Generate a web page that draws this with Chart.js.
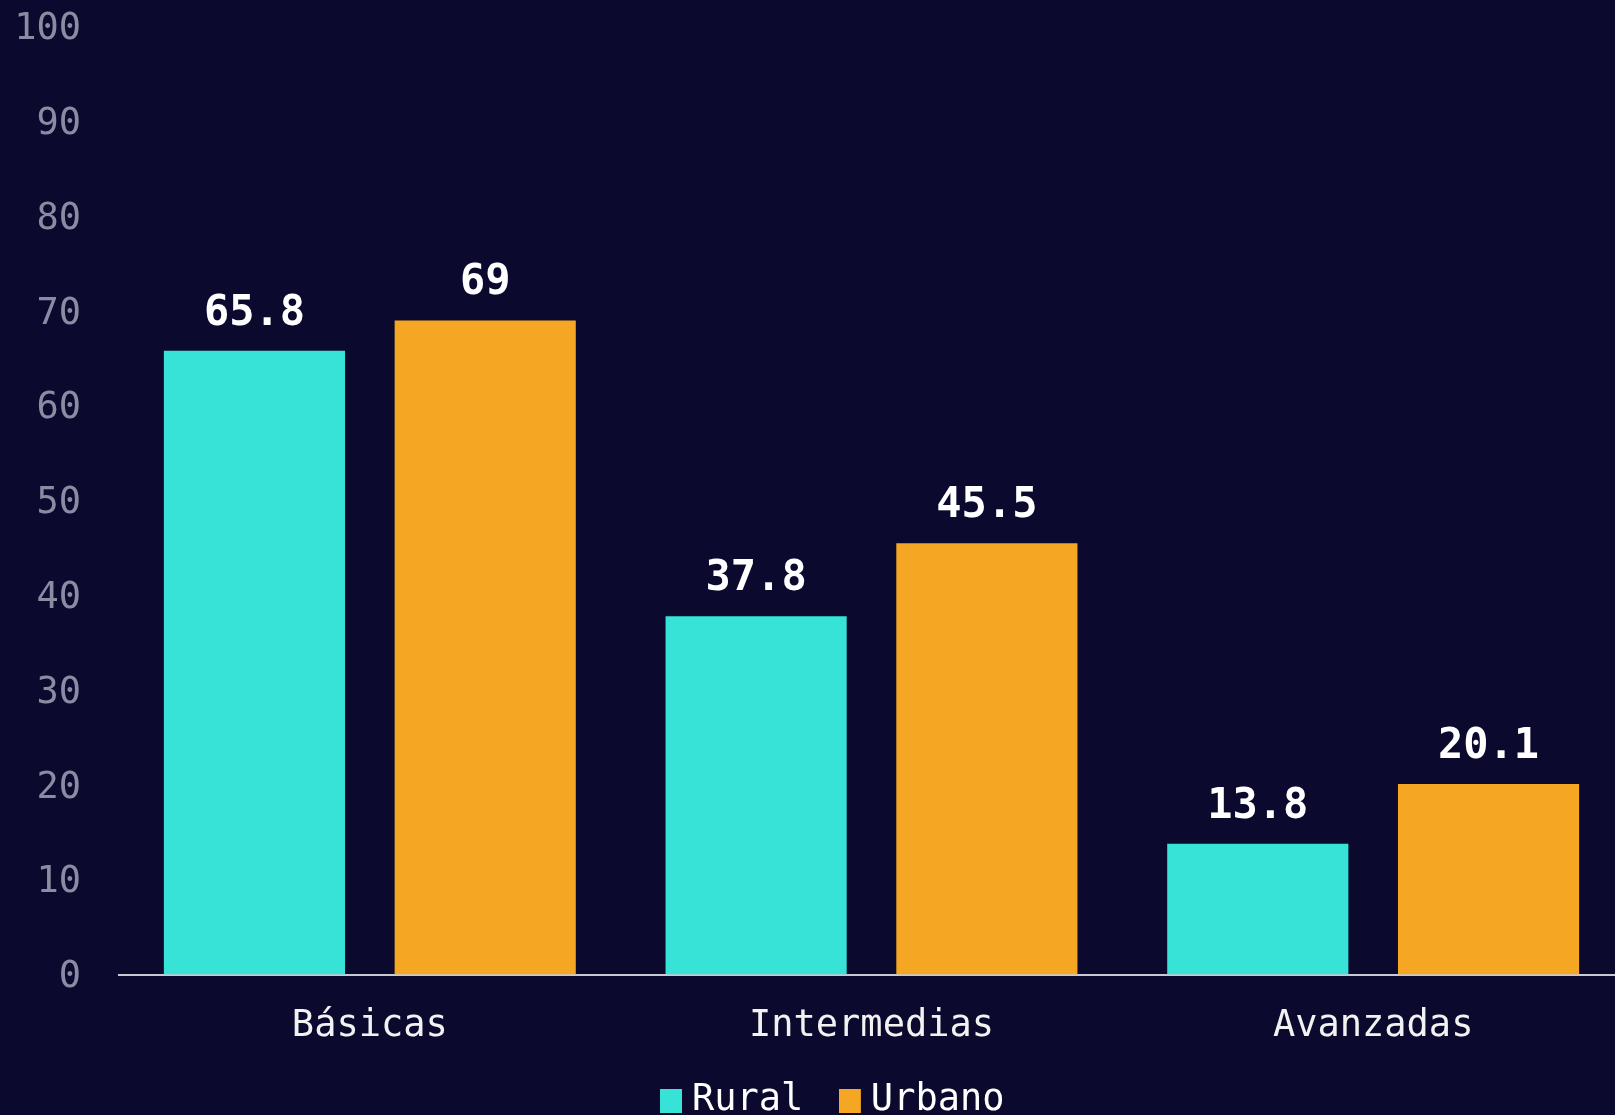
<!DOCTYPE html>
<html>
<head>
<meta charset="utf-8">
<script src="https://cdn.jsdelivr.net/npm/chart.js@4.4.1/dist/chart.umd.min.js"></script>
<style>
  html, body { margin: 0; padding: 0; background: #0b0a2e; overflow: hidden; width: 1615px; height: 1115px; }
  #wrap { position: absolute; left: 0; top: 0; width: 1664px; height: 1173px; }
</style>
</head>
<body>
<div id="wrap"><canvas id="c" width="1664" height="1173"></canvas></div>
<script>
const categories = ['Básicas', 'Intermedias', 'Avanzadas'];
const seriesNames = ['Rural', 'Urbano'];
const ruralValues = [65.8, 37.8, 13.8];
const urbanoValues = [69, 45.5, 20.1];
const yTickValues = [0, 10, 20, 30, 40, 50, 60, 70, 80, 90, 100];

const FONT = "'DejaVu Sans Mono', 'Liberation Mono', monospace";
const CYAN = '#36e3d6';
const ORANGE = '#f5a723';
const seriesColors = [CYAN, ORANGE];

function legendSwatch(color) {
  const c = document.createElement('canvas');
  c.width = 25; c.height = 24;
  const g = c.getContext('2d');
  g.fillStyle = color;
  g.fillRect(0, 0, 22, 24);
  return c;
}
const swatches = seriesColors.map(legendSwatch);

const valueLabels = {
  id: 'valueLabels',
  afterDatasetsDraw(chart) {
    const ctx = chart.ctx;
    ctx.save();
    ctx.font = "bold 42px " + FONT;
    ctx.fillStyle = '#ffffff';
    ctx.textAlign = 'center';
    ctx.textBaseline = 'alphabetic';
    chart.data.datasets.forEach((ds, di) => {
      const meta = chart.getDatasetMeta(di);
      meta.data.forEach((bar, i) => {
        ctx.fillText(String(ds.data[i]), bar.x, bar.y - 26);
      });
    });
    ctx.restore();
  }
};

const legendShift = {
  id: 'legendShift',
  afterLayout(chart) {
    const lg = chart.legend;
    lg.left += 21;
    lg.right += 21;
    lg.top -= 44;
    lg.bottom -= 44;
  }
};

new Chart(document.getElementById('c'), {
  type: 'bar',
  data: {
    labels: categories,
    datasets: [
      { label: seriesNames[0], data: ruralValues, backgroundColor: CYAN, borderWidth: 0 },
      { label: seriesNames[1], data: urbanoValues, backgroundColor: ORANGE, borderWidth: 0 }
    ]
  },
  options: {
    responsive: false,
    animation: false,
    devicePixelRatio: 1,
    categoryPercentage: 0.92,
    barPercentage: 0.785,
    layout: { padding: { left: 10, right: 40, top: 0, bottom: 0 } },
    plugins: {
      legend: {
        position: 'bottom',
        labels: {
          color: '#ffffff',
          font: { family: FONT, size: 37 },
          usePointStyle: true,
          pointStyleWidth: 2,
          boxHeight: 24,
          padding: 47,
          generateLabels(chart) {
            const items = Chart.defaults.plugins.legend.labels.generateLabels(chart);
            items.forEach((it, i) => { it.pointStyle = swatches[i]; });
            return items;
          }
        }
      },
      tooltip: { enabled: false }
    },
    scales: {
      x: {
        grid: { display: false, drawTicks: false },
        border: { display: true, color: '#c9c9d3', width: 2 },
        ticks: { color: '#f2f2f2', font: { family: FONT, size: 37 }, padding: 30 }
      },
      y: {
        min: 0, max: 100,
        afterFit(scale) { scale.width = 109; scale.paddingTop = 26.5; scale.paddingBottom = 0; },
        afterBuildTicks(scale) { scale.ticks = yTickValues.map(v => ({ value: v })); },
        grid: { display: false, drawTicks: false },
        border: { display: false },
        ticks: { color: '#8b8ca3', font: { family: FONT, size: 37 }, padding: 38, labelOffset: 3 }
      }
    }
  },
  plugins: [valueLabels, legendShift]
});
</script>
</body>
</html>
